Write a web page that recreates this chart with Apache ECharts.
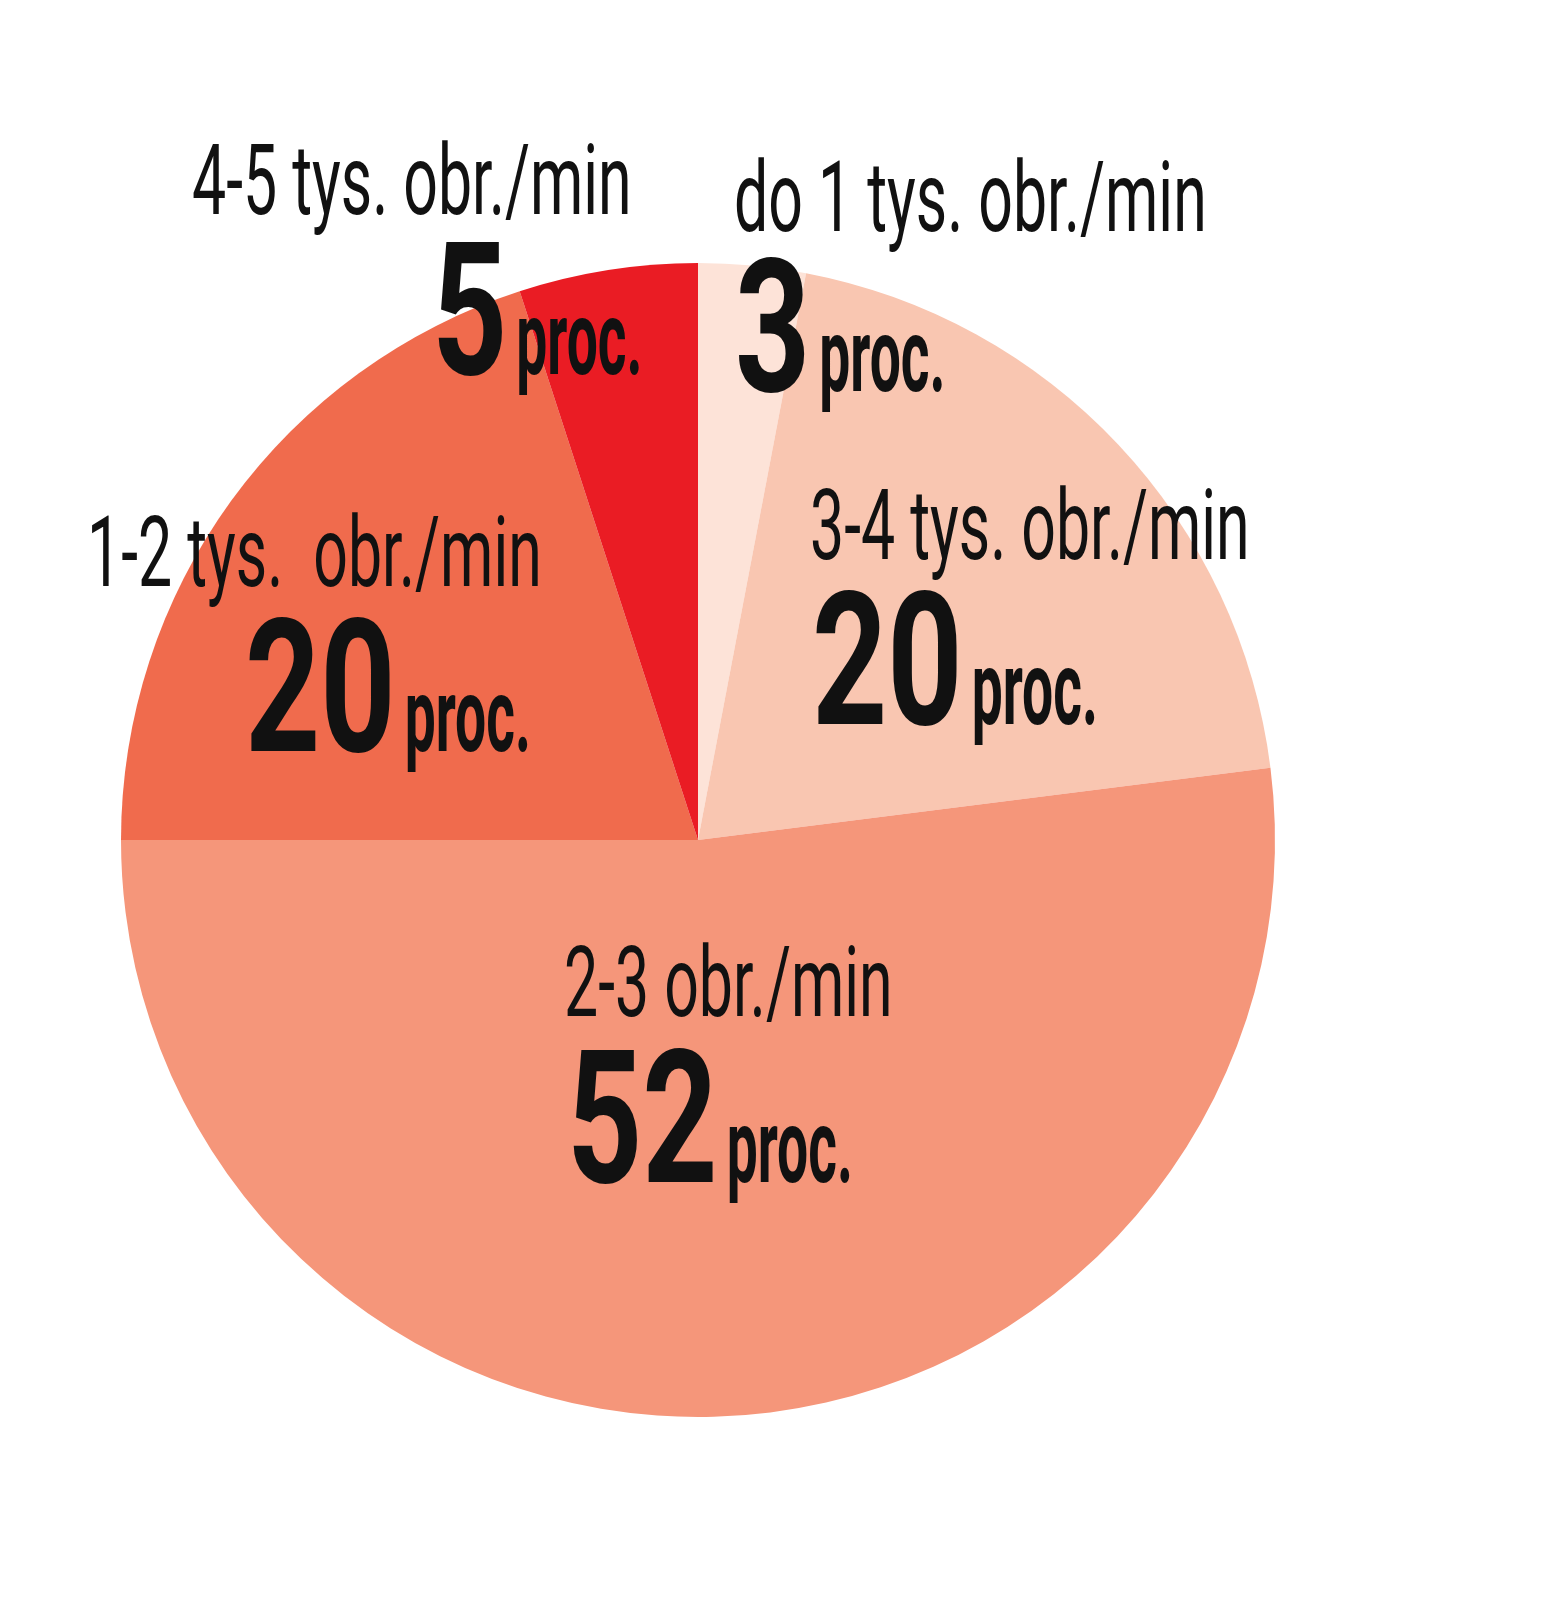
<!DOCTYPE html>
<html><head><meta charset="utf-8">
<script src="https://cdn.jsdelivr.net/npm/echarts@6/dist/echarts.min.js"></script>
<style>html,body{margin:0;background:#fff}#c{width:1566px;height:1600px}</style>
</head><body><div id="c"></div>
<script>
const categories = ['do 1 tys. obr./min', '3-4 tys. obr./min', '2-3 obr./min', '1-2 tys.  obr./min', '4-5 tys. obr./min'];
const values = [3, 20, 52, 20, 5];
const unit = 'proc.';
const colors = ['#fde3d8', '#f9c6b1', '#f5967a', '#f06b4d', '#ea1c24'];

// label placement (layout only): name left x / baseline, number left x / baseline
const labelLayout = [
  {nx: 734, nb: 230, vx: 735, vb: 387},
  {nx: 810, nb: 558, vx: 812, vb: 720},
  {nx: 564, nb: 1015, vx: 567, vb: 1178},
  {nx: 87, nb: 585, vx: 245, vb: 747},
  {nx: 192, nb: 213, vx: 432, vb: 370}
];
const FONT = 'Roboto, "Noto Sans", sans-serif';
const NAME = {size: 98, sx: 0.62, weight: 'normal', dy: 10};
const NUM = {size: 185, sx: 0.71, weight: 'bold', dy: 21};
const PROC = {size: 104, sx: 0.53, weight: 'bold', dy: 13};
const GAP = 9;

const ctx = document.createElement('canvas').getContext('2d');
function measure(text, s) { ctx.font = s.weight + ' ' + s.size + 'px ' + FONT; return ctx.measureText(text).width; }
function textEl(text, x, baseline, s) {
  return {
    type: 'text', x: x, y: baseline - 0.34 * s.size + s.dy, scaleX: s.sx, scaleY: 1, z: 10, silent: true,
    style: {text: text, fontFamily: FONT, fontSize: s.size, fontWeight: s.weight, fill: '#111', align: 'left', verticalAlign: 'middle'}
  };
}
const labels = [];
categories.forEach((c, i) => {
  const L = labelLayout[i];
  const num = String(values[i]);
  labels.push(textEl(c, L.nx, L.nb, NAME));
  labels.push(textEl(num, L.vx, L.vb, NUM));
  labels.push(textEl(unit, L.vx + measure(num, NUM) * NUM.sx + GAP, L.vb, PROC));
});

const chart = echarts.init(document.getElementById('c'), null, {renderer: 'canvas'});
chart.setOption({
  backgroundColor: '#ffffff',
  animation: false,
  series: [{
    type: 'pie',
    center: [698, 840],
    radius: 577,
    startAngle: 90,
    clockwise: true,
    silent: true,
    data: categories.map((c, i) => ({name: c, value: values[i], itemStyle: {color: colors[i]}})),
    itemStyle: {borderWidth: 0},
    label: {show: false},
    labelLine: {show: false}
  }],
  graphic: labels
});
</script>
</body></html>
